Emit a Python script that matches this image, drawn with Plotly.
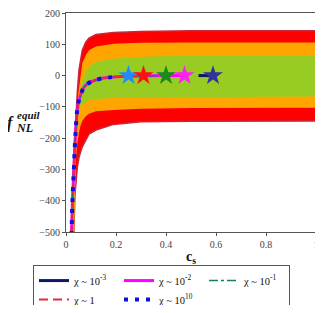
import plotly.graph_objects as go

# ---------------- data ----------------
# band edges (f_NL values) on a common c_s grid
band_cs = [0.02, 0.025, 0.028, 0.032, 0.036, 0.04, 0.045, 0.052, 0.058, 0.065,
           0.079, 0.092, 0.12, 0.19, 0.3, 0.5, 1.0]
red_top = [-560, -380, -320, -245, -170, -115, -56, 18, 55, 81,
           107, 120, 131, 138, 141, 143, 143]
orange_top = [-600, -400, -340, -265, -190, -135, -85, -40, 5, 39,
              65, 81, 93, 102, 105, 106, 106]
green_top = [-640, -415, -355, -285, -210, -150, -100, -65, -40, -19,
             13, 28, 44, 54, 60, 63, 64]
green_bottom = [-900, -560, -480, -380, -280, -210, -151, -119, -100, -92,
                -85, -79, -75, -72, -70, -68, -67]
orange_bottom = [-900, -650, -560, -450, -340, -270, -218, -182, -160, -145,
                 -130, -122, -114, -110, -106, -104, -103]
red_bottom = [-900, -750, -620, -480, -380, -335, -295, -262, -245, -228,
              -205, -187, -174, -156, -148, -146, -145]

# model curves (all chi overlap)
curve_cs = [0.022, 0.025, 0.028, 0.032, 0.036, 0.04, 0.045, 0.05, 0.06, 0.07,
            0.08, 0.1, 0.12, 0.15, 0.2, 0.25, 0.31, 0.35, 0.4, 0.474]
curve_f = [-510, -420, -360, -290, -215, -160, -110, -85, -58, -40,
           -30, -20, -14, -8, -4, -2, -1, -0.5, 0, 0]

# end points of each chi series (c_s where the line stops)
end_cs = {"1e-3": 0.588, "1e-2": 0.474, "1e-1": 0.40, "1": 0.31, "1e10": 0.21}
navy_cs = [0.53, 0.588]
navy_f = [0, 0]

star_cs = [0.25, 0.31, 0.40, 0.474, 0.588]
star_f = [0, 0, 0, 0, 0]
star_colors = ["#1e8cff", "#ff1010", "#1a8a1a", "#ff22ee", "#333399"]

legend_labels = ["χ ~ 10<sup>-3</sup>", "χ ~ 10<sup>-2</sup>", "χ ~ 10<sup>-1</sup>",
                 "χ ~ 1", "χ ~ 10<sup>10</sup>"]

x_ticks = [0, 0.2, 0.4, 0.6, 0.8, 1]
x_ticklabels = ["0", "0.2", "0.4", "0.6", "0.8", "1"]
y_ticks = [200, 100, 0, -100, -200, -300, -400, -500]

FONT = "Liberation Serif, DejaVu Serif, serif"


def upto(cs, f, cmax):
    xs, ys = [], []
    for a, b in zip(cs, f):
        if a <= cmax + 1e-9:
            xs.append(a)
            ys.append(b)
    return xs, ys


fig = go.Figure()


def band(top, bottom, color, line_color=None, lw=0):
    xs = list(band_cs) + list(reversed(band_cs))
    ys = list(top) + list(reversed(bottom))
    fig.add_trace(go.Scatter(
        x=xs, y=ys, mode="lines", fill="toself", fillcolor=color,
        line=dict(color=line_color or color, width=lw),
        showlegend=False, hoverinfo="skip"))


band(red_top, red_bottom, "#ff0000", "#c8283c", 1.5)
band(orange_top, orange_bottom, "#ffa500")
band(green_top, green_bottom, "#99cc22")

# legend order: navy, magenta, teal, red, blue
fig.add_trace(go.Scatter(x=navy_cs, y=navy_f, mode="lines",
                         line=dict(color="#0a1a6a", width=3),
                         name=legend_labels[0]))
x, y = upto(curve_cs, curve_f, end_cs["1e-2"])
fig.add_trace(go.Scatter(x=x, y=y, mode="lines", line_shape="spline",
                         line=dict(color="#ff00ff", width=3),
                         name=legend_labels[1]))
x, y = upto(curve_cs, curve_f, end_cs["1e-1"])
fig.add_trace(go.Scatter(x=x, y=y, mode="lines", line_shape="spline",
                         line=dict(color="#1a7a66", width=1.5, dash="dashdot"),
                         name=legend_labels[2]))
x, y = upto(curve_cs, curve_f, end_cs["1"])
fig.add_trace(go.Scatter(x=x, y=y, mode="lines", line_shape="spline",
                         line=dict(color="#e8283c", width=2, dash="9px,5px"),
                         name=legend_labels[3]))
x, y = upto(curve_cs, curve_f, end_cs["1e10"])
fig.add_trace(go.Scatter(x=x, y=y, mode="lines", line_shape="spline",
                         line=dict(color="#1010dd", width=4, dash="4px,7px"),
                         name=legend_labels[4]))

fig.add_trace(go.Scatter(x=star_cs, y=star_f, mode="markers",
                         marker=dict(symbol="star", size=15, color=star_colors,
                                     line=dict(width=0)),
                         showlegend=False, hoverinfo="skip"))

axis_common = dict(showgrid=False, zeroline=False, showline=True,
                   linecolor="#555", linewidth=1, mirror=True,
                   ticks="outside", ticklen=3, tickcolor="#555",
                   automargin=False, ticklabeloverflow="allow",
                   tickfont=dict(family=FONT, size=10, color="#444"))

fig.update_xaxes(range=[0, 1], tickvals=x_ticks, ticktext=x_ticklabels,
                 **axis_common)
fig.update_yaxes(range=[-500, 200], tickvals=y_ticks, **axis_common)

annots = [
    dict(text="<b>c<sub>s</sub></b>", x=0.5, y=-0.1165, xref="paper", yref="paper",
         showarrow=False, font=dict(family=FONT, size=14, color="#111"),
         xanchor="center", yanchor="middle"),
    dict(text="<b><i>f</i></b>", x=-0.2, y=0.497, xref="paper", yref="paper",
         showarrow=False, font=dict(family=FONT, size=16, color="#111"),
         xanchor="right", yanchor="middle"),
    dict(text="<b><i>equil</i></b>", x=-0.205, y=0.534, xref="paper", yref="paper",
         showarrow=False, font=dict(family=FONT, size=11, color="#111"),
         xanchor="left", yanchor="middle"),
    dict(text="<b><i>NL</i></b>", x=-0.208, y=0.476, xref="paper", yref="paper",
         showarrow=False, font=dict(family=FONT, size=12, color="#111"),
         xanchor="left", yanchor="middle"),
]

# the page body has an 8px margin: size the figure so the page fits the window
fig.update_layout(
    width=315, height=297,
    margin=dict(l=58, r=7, t=5, b=73, autoexpand=False),
    plot_bgcolor="white", paper_bgcolor="white",
    annotations=annots,
    legend=dict(orientation="h", x=-0.132, y=-0.151, xanchor="left", yanchor="top",
                entrywidth=40, entrywidthmode="pixels",
                bordercolor="#555", borderwidth=1, bgcolor="white",
                font=dict(family=FONT, size=10.5, color="#111"),
                itemwidth=30, tracegroupgap=0),
)

fig.write_html("out.html")
